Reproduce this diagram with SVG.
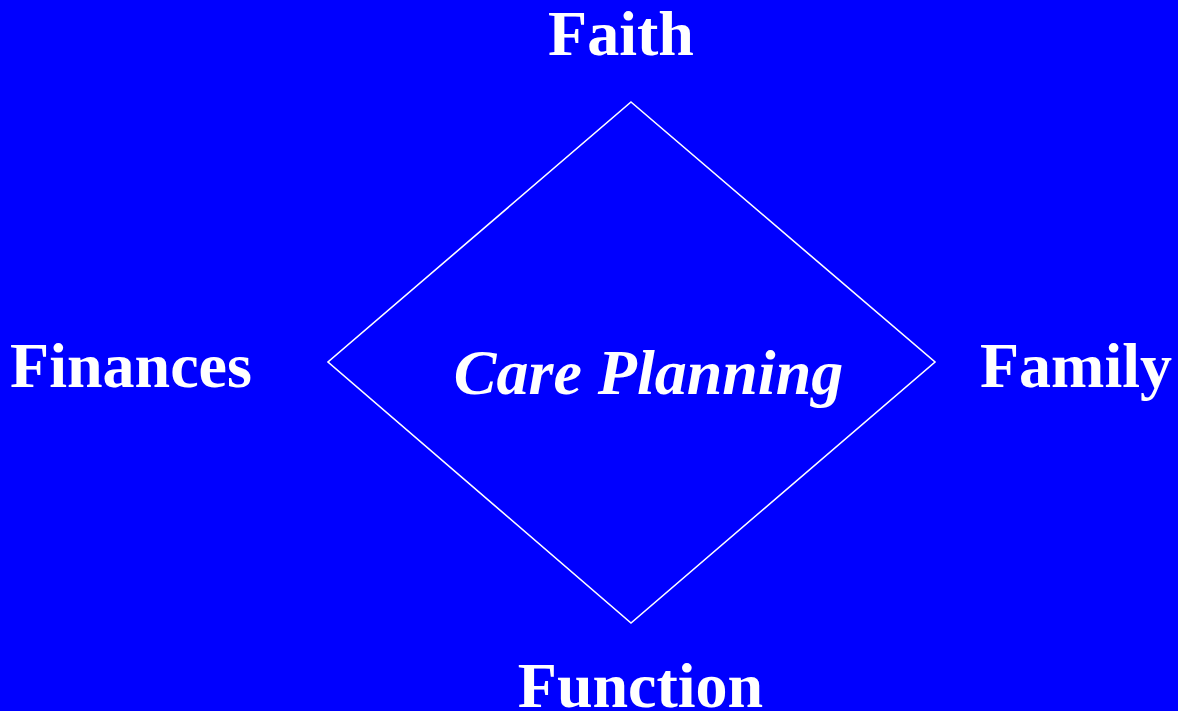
<svg xmlns="http://www.w3.org/2000/svg" width="1178" height="711" viewBox="0 0 1178 711">
<style>
.lbl{font-family:"Liberation Serif","Times New Roman",serif;font-weight:bold;font-size:64px;fill:#fff;text-anchor:middle}
.ctr{font-style:italic}
</style>
<rect width="1178" height="711" fill="#0000ff"/>
<g id="connectors">
<polygon points="631,102 935,362 631,623 328,362" fill="none" stroke="#fff" stroke-width="1.6"/>
</g>
<g id="node-center"><text class="lbl ctr" x="648.5" y="394">Care Planning</text></g>
<g id="node-faith"><text class="lbl" x="621" y="55">Faith</text></g>
<g id="node-finances"><text class="lbl" x="131" y="387">Finances</text></g>
<g id="node-family"><text class="lbl" x="1076" y="387">Family</text></g>
<g id="node-function"><text class="lbl" x="640.5" y="707">Function</text></g>
</svg>
